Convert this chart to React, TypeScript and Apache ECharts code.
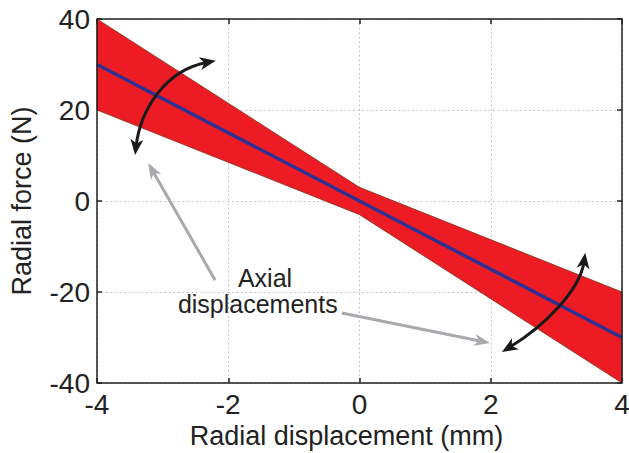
import React, { useEffect, useRef } from "react";
import * as echarts from "echarts";

// Data
const displacement = [-4, 0, 4];
const bandUpper = [40, 3, -20];
const bandLower = [20, -3, -40];
const meanForce = [30, 0, -30];

// Annotations (data coordinates)
const leftCurve = { start: [-3.42, 10.1], cp1: [-3.34, 20], cp2: [-2.96, 28.8], end: [-2.19, 30.8] };
const rightCurve = { start: [2.17, -33.2], cp1: [2.83, -27.3], cp2: [3.36, -19.6], end: [3.44, -11.4] };
const grayLeft = { tail: [-2.2, -17.4], tip: [-3.22, 8.35] };
const grayRight = { tail: [-0.27, -24.6], tip: [1.99, -31.2] };
const labelLines = ["Axial", "displacements"];
const labelPos = [[-1.44, -17.0], [-1.55, -22.6]];

const FONT = "Liberation Sans, Arial, Helvetica, sans-serif";

export default function App() {
  const ref = useRef<HTMLDivElement>(null);
  useEffect(() => {
    const chart = echarts.init(ref.current!, undefined, { renderer: "svg" });
    const tick = { show: true, inside: true, length: 5, lineStyle: { color: "#222", width: 1.5 } };
    const grid = { show: true, lineStyle: { color: "#b8b8b8", type: [1.5, 3], width: 1 } };
    const option: any = {
      animation: false,
      backgroundColor: "#fff",
      grid: { left: 97, right: 7, top: 19, bottom: 70, containLabel: false, outerBoundsMode: "none" },
      xAxis: [
        {
          type: "value", min: -4, max: 4, interval: 2,
          position: "bottom",
          name: "Radial displacement (mm)",
          nameLocation: "middle",
          nameGap: 37,
          nameTextStyle: { fontFamily: FONT, fontSize: 27, color: "#222", padding: [0, 26, 0, 0] },
          axisLine: { show: false, onZero: false },
          axisTick: tick,
          axisLabel: { fontFamily: FONT, fontSize: 28, color: "#222", margin: 7 },
          splitLine: grid,
        },
        {
          type: "value", min: -4, max: 4, interval: 2,
          position: "top",
          axisLine: { show: false, onZero: false },
          axisTick: tick,
          axisLabel: { show: false },
          splitLine: { show: false },
        },
      ],
      yAxis: [
        {
          type: "value", min: -40, max: 40, interval: 20,
          position: "left",
          name: "Radial force (N)",
          nameLocation: "middle",
          nameGap: 62,
          nameTextStyle: { fontFamily: FONT, fontSize: 27, color: "#222" },
          axisLine: { show: false, onZero: false },
          axisTick: tick,
          axisLabel: { fontFamily: FONT, fontSize: 28, color: "#222", margin: 7 },
          splitLine: grid,
        },
        {
          type: "value", min: -40, max: 40, interval: 20,
          position: "right",
          axisLine: { show: false, onZero: false },
          axisTick: tick,
          axisLabel: { show: false },
          splitLine: { show: false },
        },
      ],
      series: [
        {
          type: "custom",
          name: "band",
          xAxisIndex: 0,
          yAxisIndex: 0,
          data: displacement.map((x, i) => [x, bandUpper[i], bandLower[i]]),
          encode: { x: 0, y: [1, 2] },
          renderItem: (params: any, api: any) => {
            if (params.dataIndex !== 0) return null;
            const upper = displacement.map((x, i) => api.coord([x, bandUpper[i]]));
            const lower = displacement.map((x, i) => api.coord([x, bandLower[i]])).reverse();
            return {
              type: "polygon",
              shape: { points: [...upper, ...lower] },
              style: { fill: "#ED1C24", stroke: "#7a3a22", lineWidth: 0.8 },
            };
          },
          z: 2,
        },
        {
          type: "line",
          name: "mean",
          data: displacement.map((x, i) => [x, meanForce[i]]),
          showSymbol: false,
          lineStyle: { color: "#2E3192", width: 3.5 },
          z: 3,
        },
      ],
    };
    chart.setOption(option);

    const px = (p: number[]) => chart.convertToPixel({ gridIndex: 0 }, p) as number[];
    const head = (tip: number[], from: number[], color: string, L: number, W: number) => {
      const dx = tip[0] - from[0];
      const dy = tip[1] - from[1];
      const len = Math.hypot(dx, dy) || 1;
      const ux = dx / len, uy = dy / len;
      const nx = -uy, ny = ux;
      const bx = tip[0] - ux * L, by = tip[1] - uy * L;
      const notch = [tip[0] - ux * L * 0.72, tip[1] - uy * L * 0.72];
      return {
        type: "polygon",
        z: 20,
        shape: { points: [tip, [bx + nx * W / 2, by + ny * W / 2], notch, [bx - nx * W / 2, by - ny * W / 2]] },
        style: { fill: color },
        silent: true,
      };
    };
    const shorten = (tip: number[], from: number[], d: number) => {
      const dx = tip[0] - from[0], dy = tip[1] - from[1];
      const len = Math.hypot(dx, dy) || 1;
      return [tip[0] - (dx / len) * d, tip[1] - (dy / len) * d];
    };
    const curve = (c: any, color: string) => {
      const s = px(c.start), c1 = px(c.cp1), c2 = px(c.cp2), e = px(c.end);
      const s2 = shorten(s, c1, 9), e2 = shorten(e, c2, 9);
      return [
        {
          type: "bezierCurve",
          z: 19,
          shape: { x1: s2[0], y1: s2[1], cpx1: c1[0], cpy1: c1[1], cpx2: c2[0], cpy2: c2[1], x2: e2[0], y2: e2[1] },
          style: { stroke: color, lineWidth: 3, fill: null },
          silent: true,
        },
        head(s, c1, color, 16, 13),
        head(e, c2, color, 16, 13),
      ];
    };
    const straight = (a: any, color: string) => {
      const t = px(a.tail), p = px(a.tip);
      const p2 = shorten(p, t, 9);
      return [
        {
          type: "line",
          z: 19,
          shape: { x1: t[0], y1: t[1], x2: p2[0], y2: p2[1] },
          style: { stroke: color, lineWidth: 3 },
          silent: true,
        },
        head(p, t, color, 16, 12),
      ];
    };
    const corners = [px([-4, 40]), px([4, -40])];
    const graphics: any[] = [
      {
        type: "rect",
        z: 25,
        shape: { x: corners[0][0], y: corners[0][1], width: corners[1][0] - corners[0][0], height: corners[1][1] - corners[0][1] },
        style: { fill: null, stroke: "#222", lineWidth: 1.5 },
        silent: true,
      },
      ...curve(leftCurve, "#1a1a1a"),
      ...curve(rightCurve, "#1a1a1a"),
      ...straight(grayLeft, "#a7a9ac"),
      ...straight(grayRight, "#a7a9ac"),
      ...labelLines.map((t, i) => {
        const p = px(labelPos[i]);
        return {
          type: "text",
          z: 21,
          x: p[0],
          y: p[1],
          style: { text: t, fontFamily: FONT, fontSize: 25, fill: "#222", align: "center", verticalAlign: "middle" },
          silent: true,
        };
      }),
    ];
    chart.setOption({ graphic: graphics });
    return () => chart.dispose();
  }, []);
  return <div ref={ref} style={{ position: "fixed", left: 0, top: 0, width: 629, height: 453 }} />;
}
